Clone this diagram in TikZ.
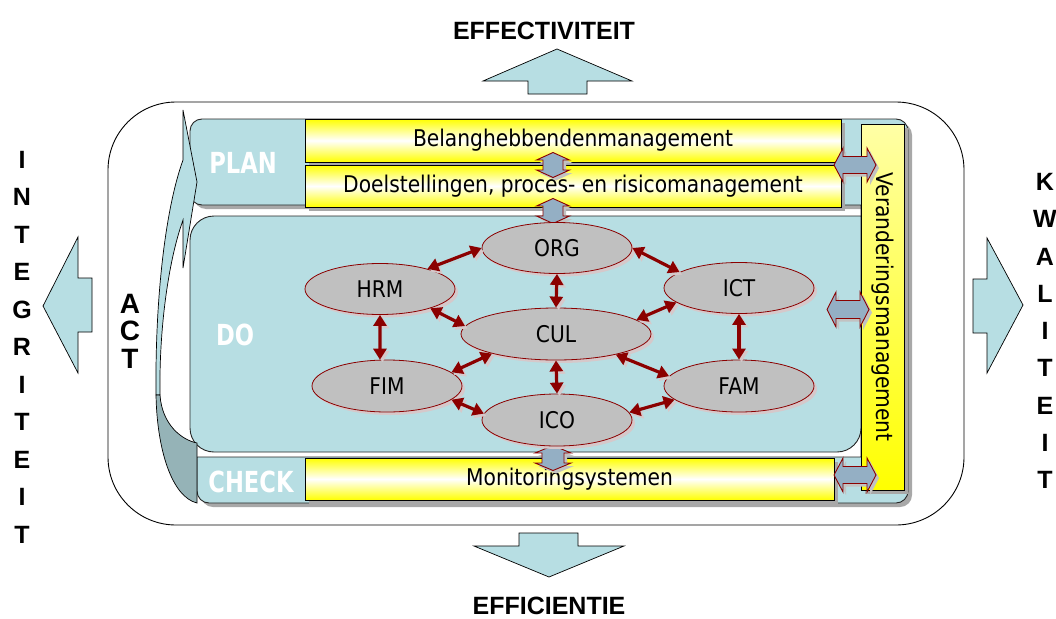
\documentclass[tikz,border=0pt]{standalone}
\usepackage{fontspec}
\setmainfont{Liberation Sans}
\newfontfamily\tah[FakeStretch=0.88]{DejaVu Sans}
\newfontfamily\tahb[FakeStretch=0.78]{DejaVu Sans}
\usetikzlibrary{shapes.geometric,arrows.meta}
\definecolor{lblue}{HTML}{B7DEE3}
\definecolor{dblue}{HTML}{95B3B7}
\definecolor{barrow}{HTML}{94AFC4}
\definecolor{dred}{HTML}{8B0000}
\definecolor{egray}{HTML}{C0C0C0}
\definecolor{eshadow}{HTML}{D6C8CA}
\definecolor{bshadow}{HTML}{A8A8A8}
\tikzset{
  bigarr/.style={draw=black, fill=lblue, line width=0.7pt, line join=miter},
  outerbox/.style={draw=black, line width=0.9pt, rounded corners=68pt},
  panel/.style={draw=black!85, fill=lblue, line width=0.9pt,
    preaction={fill=bshadow, transform canvas={shift={(4pt,-4pt)}}}},
  dobox/.style={draw=black!85, fill=lblue, line width=0.9pt},
  actlight/.style={draw=black, fill=lblue, line width=0.7pt},
  actdark/.style={draw=black, fill=dblue, line width=0.7pt},
  ybox/.style={draw=black, line width=0.9pt, top color=yellow, bottom color=yellow, middle color=white,
    inner sep=0, font=\tah\fontsize{23}{23}\selectfont,
    preaction={fill=bshadow, transform canvas={shift={(4pt,-4pt)}}}},
  barrshape/.style={draw=dred, fill=barrow, line width=0.9pt, line join=miter,
    preaction={fill=bshadow!70, transform canvas={shift={(3pt,-3pt)}}}},
  pics/blockarrow/.style n args={4}{code={
    \draw[barrshape] (-#1,0) -- (-#1+#2,-#3) -- (-#1+#2,-#4) -- (#1-#2,-#4) -- (#1-#2,-#3) -- (#1,0)
      -- (#1-#2,#3) -- (#1-#2,#4) -- (-#1+#2,#4) -- (-#1+#2,#3) -- cycle;}},
  ell/.style={ellipse, draw=dred, fill=egray, line width=0.8pt, inner sep=0,
    minimum width=150pt, minimum height=51pt, font=\tah\fontsize{23}{23}\selectfont,
    preaction={fill=eshadow, transform canvas={shift={(3pt,-3pt)}}}},
  link/.style={draw=dred, line width=3.2pt, {Triangle[length=11pt,width=13pt]}-{Triangle[length=11pt,width=13pt]},
    preaction={draw=eshadow, transform canvas={shift={(2.5pt,-2.5pt)}}}},
  phase/.style={text=white, inner sep=0, font=\tahb\bfseries\fontsize{29}{29}\selectfont},
  title/.style={inner sep=0, font=\bfseries\fontsize{25}{30}\selectfont},
}
\begin{document}
\begin{tikzpicture}[x=1pt,y=-1pt]
\path[use as bounding box, fill=white] (0,0) rectangle (1056,618);

% outer frame
\draw[outerbox] (108,102) rectangle (964,525);

% direction arrows
\draw[bigarr] (557,49) -- (632,81) -- (587,81) -- (587,94) -- (528,94) -- (528,81) -- (483,81) -- cycle;
\draw[bigarr] (549,577) -- (624,546) -- (578,546) -- (578,533) -- (519,533) -- (519,546) -- (474,546) -- cycle;
\draw[bigarr] (43,306) -- (78,237) -- (78,278) -- (92,278) -- (92,332) -- (78,332) -- (78,373) -- cycle;
\draw[bigarr] (1023,305) -- (987,238) -- (987,279) -- (973,279) -- (973,333) -- (987,333) -- (987,373) -- cycle;

% titles
\node[title] (eff) at (544,31) {EFFECTIVITEIT};
\node[title] (effi) at (549,606) {EFFICIENTIE};
\node[title, align=center, font=\bfseries\fontsize{25}{37.5}\selectfont] (integ) at (22,347)
  {I\\N\\T\\E\\G\\R\\I\\T\\E\\I\\T};
\node[title, align=center, font=\bfseries\fontsize{25}{37.25}\selectfont] (kwal) at (1045,331)
  {K\\W\\A\\L\\I\\T\\E\\I\\T};
\node[title, align=center, font=\bfseries\fontsize{28}{27.5}\selectfont] (act) at (130,331)
  {A\\C\\T};

% panels
\draw[panel] (861,205) [rounded corners=12pt] -- (190,205) -- (190,119) -- (908,119) -- (908,503) -- (197,503)
  [sharp corners] -- (197,457) -- (861,457) -- cycle;
\draw[dobox] (861,216) [rounded corners=24pt] -- (190,216) -- (190,452) -- (861,452) [sharp corners] -- cycle;

% ACT curved arrow
\draw[actlight] (183,110) -- (197,182) -- (183,268) -- (183,220)
  .. controls (168,262) and (159,330) .. (160,395) -- (156,395)
  .. controls (155,300) and (165,210) .. (183,160) -- cycle;
\draw[actdark] (156,395) .. controls (157,450) and (172,497) .. (197,503) -- (197,443)
  .. controls (182,440) and (162,425) .. (160,395) -- cycle;

% phase labels
\node[phase] (plan) at (243,163) {PLAN};
\node[phase] (do) at (235,335) {DO};
\node[phase] (check) at (251,482) {CHECK};

% yellow boxes
\node[ybox, minimum width=536pt, minimum height=43pt] (bel) at (573,140.5) {Belanghebbendenmanagement};
\node[ybox, minimum width=536pt, minimum height=42pt] (doel) at (573,186) {Doelstellingen, proces- en risicomanagement};
\node[ybox, minimum width=529pt, minimum height=42pt] (mon) at (569.5,479) {Monitoringsystemen};
\node[ybox, top color=yellow!35!white, bottom color=yellow, rotate=-90, minimum width=366pt, minimum height=43pt] (ver) at (882.5,307) {Veranderingsmanagement};

% block double arrows
\pic at (855,165) {blockarrow={21}{9}{17}{8.5}};
\pic at (848,309.5) {blockarrow={21}{9}{17.5}{9}};
\pic at (855,475) {blockarrow={21}{9}{17}{8.5}};
\pic[rotate=90] at (553,165) {blockarrow={12.5}{7.5}{16.5}{10}};
\pic[rotate=90] at (553,211) {blockarrow={12.5}{7.5}{16.5}{10}};
\pic[rotate=90] at (553,458) {blockarrow={12.5}{7.5}{18}{11}};

% ellipses
\node[ell] (ORG) at (557,248) {ORG};
\node[ell] (HRM) at (380,289) {HRM};
\node[ell, minimum width=190pt, minimum height=52pt] (CUL) at (556,334) {CUL};
\node[ell, minimum height=52pt] (FIM) at (387,386) {FIM};
\node[ell, minimum height=52pt] (ICO) at (557,420) {ICO};
\node[ell] (ICT) at (739,288) {ICT};
\node[ell, minimum height=52pt] (FAM) at (739,386) {FAM};

% links
\draw[link] (ORG.west) -- (HRM.23);
\draw[link] (ORG.east) -- (ICT.165);
\draw[link] (HRM.-21) -- (CUL.175);
\draw[link] (FIM.12) -- (CUL.-163);
\draw[link] (FIM.-12) -- (ICO.175);
\draw[link] (CUL.10) -- (ICT.-167);
\draw[link] (CUL.-19) -- (FAM.172);
\draw[link] (ICO.6) -- (FAM.-168);
\draw[link] (ORG.south) -- (CUL.north);
\draw[link] (CUL.south) -- (ICO.north);
\draw[link] (HRM.south) -- (FIM.105);
\draw[link] (ICT.south) -- (FAM.north);
\end{tikzpicture}
\end{document}
